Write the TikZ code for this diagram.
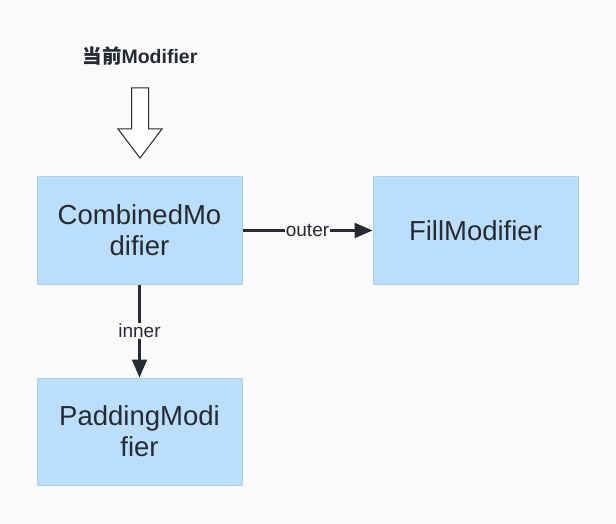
\documentclass[tikz,border=0pt]{standalone}
\usepackage{fontspec}
\setmainfont{Liberation Sans}
\newfontfamily\cjk{Noto Sans CJK SC}
\usetikzlibrary{arrows.meta,shapes.arrows}
\definecolor{bg}{RGB}{250,250,250}
\definecolor{boxfill}{RGB}{187,222,251}
\definecolor{boxline}{RGB}{170,208,242}
\definecolor{ink}{RGB}{38,42,50}
\begin{document}
\begin{tikzpicture}[x=1pt,y=-1pt,
  mbox/.style={draw=boxline,line width=1pt,fill=boxfill,minimum width=205pt,minimum height=107pt,
    inner sep=0pt,align=center,text=ink,font=\fontsize{27.5}{31}\selectfont},
  conn/.style={draw=ink,line width=2.2pt,-{Triangle[length=18pt,width=15pt]}},
  lbl/.style={fill=bg,text=ink,inner sep=1pt,font=\fontsize{19}{20}\selectfont}]
\fill[bg] (0,0) rectangle (616,524);
\useasboundingbox (0,0) rectangle (616,524);
\node[mbox] (comb) at (139.5,230.5) {CombinedMo\\difier};
\node[mbox] (fill) at (475.5,230.5) {FillModifier};
\node[mbox] (pad) at (139.5,431.5) {PaddingModi\\fier};
\node[text=ink,inner sep=0pt,font=\fontsize{19.5}{20}\selectfont\bfseries] (cur) at (140,56) {{\cjk\bfseries 当前}Modifier};
\draw[draw=ink,fill=white,line width=1pt] (131.5,88) -- (148.5,88) -- (148.5,129) -- (162,129) -- (140,158) -- (118,129) -- (131.5,129) -- cycle;
\draw[conn] (comb.east) -- node[lbl]{outer} (fill.west);
\draw[conn] (comb.south) -- node[lbl]{inner} (pad.north);
\end{tikzpicture}
\end{document}
